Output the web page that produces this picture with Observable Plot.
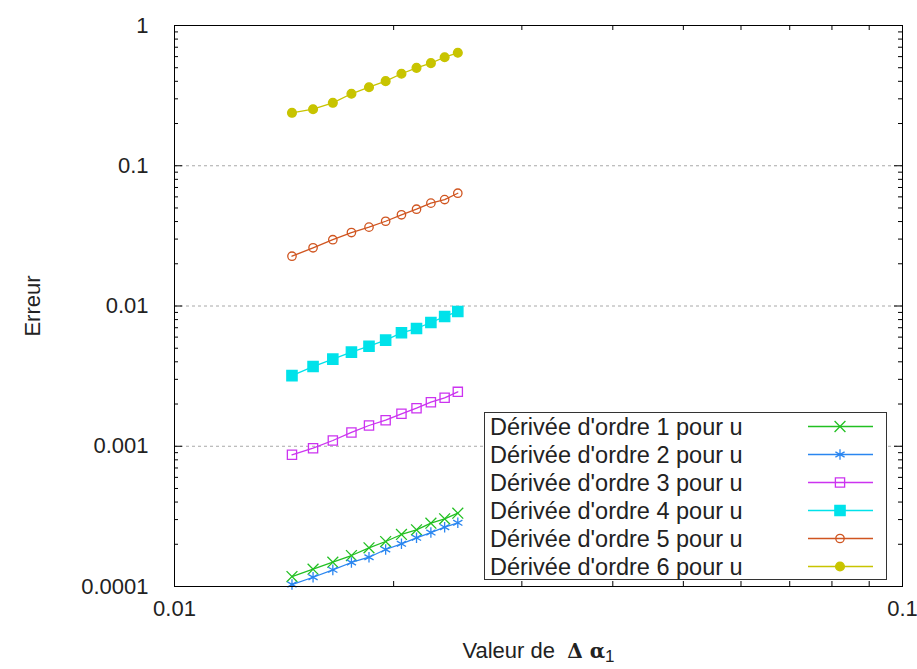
<!DOCTYPE html>
<html>
<head>
<meta charset="utf-8">
<script src="https://cdn.jsdelivr.net/npm/d3@7"></script>
<script src="https://cdn.jsdelivr.net/npm/@observablehq/plot@0.6"></script>
<style>
  html, body { margin: 0; padding: 0; background: #fff; }
  #wrap { position: relative; width: 917px; height: 669px; font-family: "Liberation Sans", Arial, sans-serif; }
  #legend { position: absolute; left: 484px; top: 412px; width: 403px; height: 168px; background: #fff; border: 1.3px solid #333; box-sizing: border-box; }
  .row { position: absolute; left: 0; height: 28px; width: 100%; }
  .row span { position: absolute; left: 5px; top: 0; line-height: 28px; font-size: 23.5px; color: #222; white-space: nowrap; }
  .row svg { position: absolute; left: 322px; top: 0; }
</style>
</head>
<body>
<div id="wrap"></div>
<script>
// ---- data ----
const alpha = [0.0145, 0.0155, 0.0165, 0.0175, 0.0185, 0.0195, 0.0205, 0.0215, 0.0225, 0.0235, 0.0245];
const names = [
  "Dérivée d'ordre 1 pour u",
  "Dérivée d'ordre 2 pour u",
  "Dérivée d'ordre 3 pour u",
  "Dérivée d'ordre 4 pour u",
  "Dérivée d'ordre 5 pour u",
  "Dérivée d'ordre 6 pour u"
];
const ordre1 = [0.0001178, 0.0001328, 0.0001490, 0.0001663, 0.0001888, 0.0002093, 0.0002349, 0.0002537, 0.0002827, 0.0003039, 0.0003333];
const ordre2 = [0.0001033, 0.0001164, 0.0001314, 0.0001483, 0.0001617, 0.0001836, 0.0002015, 0.0002224, 0.0002425, 0.0002648, 0.0002845];
const ordre3 = [0.000869, 0.000969, 0.001099, 0.001254, 0.001406, 0.001534, 0.001704, 0.001867, 0.002061, 0.002215, 0.002443];
const ordre4 = [0.00319, 0.00370, 0.00418, 0.00469, 0.00517, 0.00571, 0.00644, 0.00691, 0.00763, 0.00841, 0.00914];
const ordre5 = [0.02265, 0.0260, 0.0297, 0.0334, 0.0365, 0.0402, 0.0447, 0.0490, 0.0541, 0.0574, 0.0637];
const ordre6 = [0.2385, 0.253, 0.281, 0.326, 0.363, 0.401, 0.453, 0.499, 0.539, 0.594, 0.639];
const xTickLabels = [0.01, 0.1];
const xMinorTicks = [0.02, 0.03, 0.04, 0.05, 0.06, 0.07, 0.08, 0.09];
const yTickLabels = [0.0001, 0.001, 0.01, 0.1, 1];
const yGrid = [0.001, 0.01, 0.1];
const yMinorMult = [2, 3, 4, 5, 6, 7, 8, 9];

// ---- styles ----
const values = [ordre1, ordre2, ordre3, ordre4, ordre5, ordre6];
const colors = ["#22c022", "#2a86f0", "#cc33f0", "#00e2ea", "#d05520", "#c8c400"];
const styles = [
  {symbol: "times", r: 5, filled: false},
  {symbol: "asterisk", r: 5, filled: false},
  {symbol: "square", r: 5.2, filled: false},
  {symbol: "square", r: 5.8, filled: true},
  {symbol: "circle", r: 4.2, filled: false},
  {symbol: "circle", r: 4.4, filled: true}
];

const W = 917, H = 669, mL = 174, mR = 15, mT = 25, mB = 83;
const innerW = W - mL - mR, innerH = H - mT - mB;
const yMinorTicks = yTickLabels.slice(0, -1).flatMap(d => yMinorMult.map(k => k * d));

const seriesData = values.map((vals, i) => alpha.map((a, j) => ({x: a, y: vals[j], s: names[i]})));

const marks = [
  Plot.ruleY(yGrid, {y: d => d, stroke: "#a8a8a8", strokeWidth: 1, strokeDasharray: "3,3"}),
  // inward ticks
  Plot.tickX(xMinorTicks, {x: d => d, insetTop: innerH - 5, stroke: "#000"}),
  Plot.tickX(xMinorTicks, {x: d => d, insetBottom: innerH - 5, stroke: "#000"}),
  Plot.tickY(yTickLabels, {y: d => d, insetRight: innerW - 8, stroke: "#000"}),
  Plot.tickY(yTickLabels, {y: d => d, insetLeft: innerW - 8, stroke: "#000"}),
  Plot.tickY(yMinorTicks, {y: d => d, insetRight: innerW - 4, stroke: "#000"}),
  Plot.tickY(yMinorTicks, {y: d => d, insetLeft: innerW - 4, stroke: "#000"})
];
seriesData.forEach((data, i) => {
  const st = styles[i];
  marks.push(Plot.line(data, {x: "x", y: "y", stroke: colors[i], strokeWidth: 1.3}));
  marks.push(Plot.dot(data, {
    x: "x", y: "y", symbol: () => st.symbol, r: st.r,
    stroke: colors[i], strokeWidth: 1.3,
    fill: st.filled ? colors[i] : "none"
  }));
});
marks.push(Plot.frame({stroke: "#000", strokeWidth: 1}));
marks.push(Plot.axisX({ticks: xTickLabels, tickSize: 0, tickPadding: 14, tickFormat: d => String(d),
  fontSize: 22, label: "Valeur de Δα1", labelAnchor: "center", labelOffset: 71, labelArrow: "none"}));
marks.push(Plot.axisY({ticks: yTickLabels, tickSize: 0, tickPadding: 26, tickFormat: d => String(d),
  fontSize: 22, label: "Erreur", labelAnchor: "center", labelOffset: 150, labelArrow: "none"}));

const chart = Plot.plot({
  width: W, height: H,
  marginLeft: mL, marginRight: mR, marginTop: mT, marginBottom: mB,
  style: {fontFamily: "'Liberation Sans', Arial, sans-serif", fontSize: "22px", color: "#222", background: "#fff"},
  x: {type: "log", domain: [0.01, 0.1]},
  y: {type: "log", domain: [0.0001, 1]},
  marks
});
const wrap = document.getElementById("wrap");
wrap.appendChild(chart);

// enforce text size on axis labels
d3.select(chart).selectAll('[aria-label$="tick label"] text, [aria-label$="axis label"] text').style("font-size", "22px");

// style x label with bold greek + subscript
const xl = d3.select(chart).select('[aria-label="x-axis label"] text');
if (!xl.empty()) {
  xl.text(null);
  xl.append("tspan").text("Valeur de  ");
  xl.append("tspan").style("font-weight", "bold").style("font-family", "DejaVu Serif").style("font-size", "20px").text("Δ α");
  xl.append("tspan").attr("dy", "0.25em").style("font-size", "17px").text("1");
}

// legend
const legend = document.createElement("div");
legend.id = "legend";
names.forEach((name, i) => {
  const row = document.createElement("div");
  row.className = "row";
  row.style.top = (28 * i) + "px";
  const span = document.createElement("span");
  span.textContent = name;
  row.appendChild(span);
  const svg = d3.create("svg").attr("width", 70).attr("height", 28);
  svg.append("line").attr("x1", 1).attr("x2", 66).attr("y1", 13.5).attr("y2", 13.5)
    .attr("stroke", colors[i]).attr("stroke-width", 1.3);
  const st = styles[i];
  const sym = {times: d3.symbolTimes, asterisk: d3.symbolAsterisk, square: d3.symbolSquare, circle: d3.symbolCircle}[st.symbol];
  svg.append("path").attr("d", d3.symbol(sym, Math.PI * st.r * st.r)())
    .attr("transform", "translate(33,13.5)")
    .attr("stroke", colors[i]).attr("stroke-width", 1.3)
    .attr("fill", st.filled ? colors[i] : "none");
  row.appendChild(svg.node());
  legend.appendChild(row);
});
wrap.appendChild(legend);
</script>
</body>
</html>
